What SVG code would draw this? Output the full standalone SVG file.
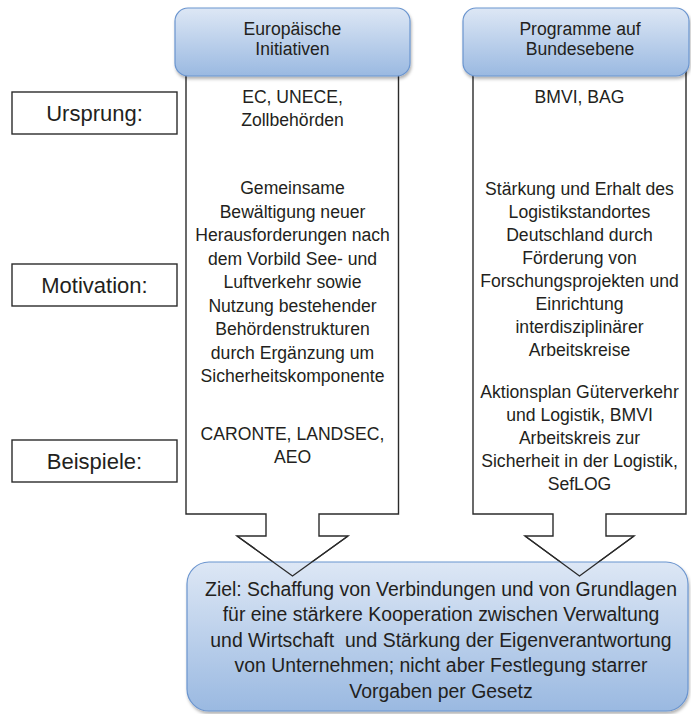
<svg xmlns="http://www.w3.org/2000/svg" width="691" height="714" viewBox="0 0 691 714">
<style>
text{font-family:"Liberation Sans",Arial,sans-serif;fill:#231f20;text-anchor:middle}
.col{font-size:17.6px}
.hdr{font-size:17.6px}
.lbl{font-size:22px}
.goal{font-size:19.4px;white-space:pre}
.colshape{fill:#fff;stroke:#2b2b2b;stroke-width:1.4}
.lblbox{fill:#fff;stroke:#2b2b2b;stroke-width:1.4}
.blue{fill:url(#g);stroke:#6b95cf;stroke-width:1.2;filter:url(#sh)}
</style>
<defs>
<linearGradient id="g" x1="0" y1="0" x2="0" y2="1">
<stop offset="0" stop-color="#dde7f5"/>
<stop offset="1" stop-color="#9ab9e1"/>
</linearGradient>
<filter id="sh" x="-5%" y="-10%" width="110%" height="125%">
<feDropShadow dx="1" dy="2.5" stdDeviation="1.6" flood-color="#000" flood-opacity="0.3"/>
</filter>
</defs>

<g id="label-ursprung">
<rect class="lblbox" x="12" y="92" width="165" height="42"/>
<text class="lbl" x="94.5" y="120.5">Ursprung:</text>
</g>
<g id="label-motivation">
<rect class="lblbox" x="12" y="264" width="165" height="42"/>
<text class="lbl" x="94.5" y="292.5">Motivation:</text>
</g>
<g id="label-beispiele">
<rect class="lblbox" x="12" y="440" width="165" height="42"/>
<text class="lbl" x="94.5" y="468.5">Beispiele:</text>
</g>

<g id="column-eu">
<path class="colshape" d="M186,70 H398.5 V514 H319 V536 H348 L292.5,576 L237,536 H266 V514 H186 Z"/>
<text class="col" x="292.5" y="103">EC, UNECE,</text>
<text class="col" x="292.5" y="126">Zollbehörden</text>
<text class="col" x="292.5" y="194">Gemeinsame</text>
<text class="col" x="292.5" y="217.5">Bewältigung neuer</text>
<text class="col" x="292.5" y="241">Herausforderungen nach</text>
<text class="col" x="292.5" y="264.5">dem Vorbild See- und</text>
<text class="col" x="292.5" y="288">Luftverkehr sowie</text>
<text class="col" x="292.5" y="311.5">Nutzung bestehender</text>
<text class="col" x="292.5" y="335">Behördenstrukturen</text>
<text class="col" x="292.5" y="358.5">durch Ergänzung um</text>
<text class="col" x="292.5" y="382">Sicherheitskomponente</text>
<text class="col" x="292.5" y="440">CARONTE, LANDSEC,</text>
<text class="col" x="292.5" y="463">AEO</text>
</g>

<g id="column-bund">
<path class="colshape" d="M473,70 H686 V514 H606 V536 H634 L579.5,576 L525,536 H553 V514 H473 Z"/>
<text class="col" x="579.5" y="103">BMVI, BAG</text>
<text class="col" x="579.5" y="195">Stärkung und Erhalt des</text>
<text class="col" x="579.5" y="218">Logistikstandortes</text>
<text class="col" x="579.5" y="241">Deutschland durch</text>
<text class="col" x="579.5" y="264">Förderung von</text>
<text class="col" x="579.5" y="287">Forschungsprojekten und</text>
<text class="col" x="579.5" y="310">Einrichtung</text>
<text class="col" x="579.5" y="333">interdisziplinärer</text>
<text class="col" x="579.5" y="356">Arbeitskreise</text>
<text class="col" x="579.5" y="398">Aktionsplan Güterverkehr</text>
<text class="col" x="579.5" y="421">und Logistik, BMVI</text>
<text class="col" x="579.5" y="444">Arbeitskreis zur</text>
<text class="col" x="579.5" y="467">Sicherheit in der Logistik,</text>
<text class="col" x="579.5" y="490">SefLOG</text>
</g>

<g id="header-eu">
<rect class="blue" x="175" y="8" width="235" height="68" rx="13"/>
<text class="hdr" x="292.5" y="35">Europäische</text>
<text class="hdr" x="292.5" y="55">Initiativen</text>
</g>
<g id="header-bund">
<rect class="blue" x="463" y="8" width="226" height="68" rx="13"/>
<text class="hdr" x="580" y="35">Programme auf</text>
<text class="hdr" x="580" y="55">Bundesebene</text>
</g>

<g id="goal">
<rect class="blue" x="187" y="562" width="501" height="149" rx="22"/>
<text class="goal" x="441" y="596">Ziel: Schaffung von Verbindungen und von Grundlagen</text>
<text class="goal" x="441" y="621.4">für eine stärkere Kooperation zwischen Verwaltung</text>
<text class="goal" x="441" y="646.8">und Wirtschaft  und Stärkung der Eigenverantwortung</text>
<text class="goal" x="441" y="672.2">von Unternehmen; nicht aber Festlegung starrer</text>
<text class="goal" x="441" y="697.6">Vorgaben per Gesetz</text>
</g>

<g id="connectors" fill="none" stroke="#2b2b2b" stroke-width="1.4">
<polyline points="348,536 292.5,576 237,536"/>
<polyline points="634,536 579.5,576 525,536"/>
</g>
</svg>
